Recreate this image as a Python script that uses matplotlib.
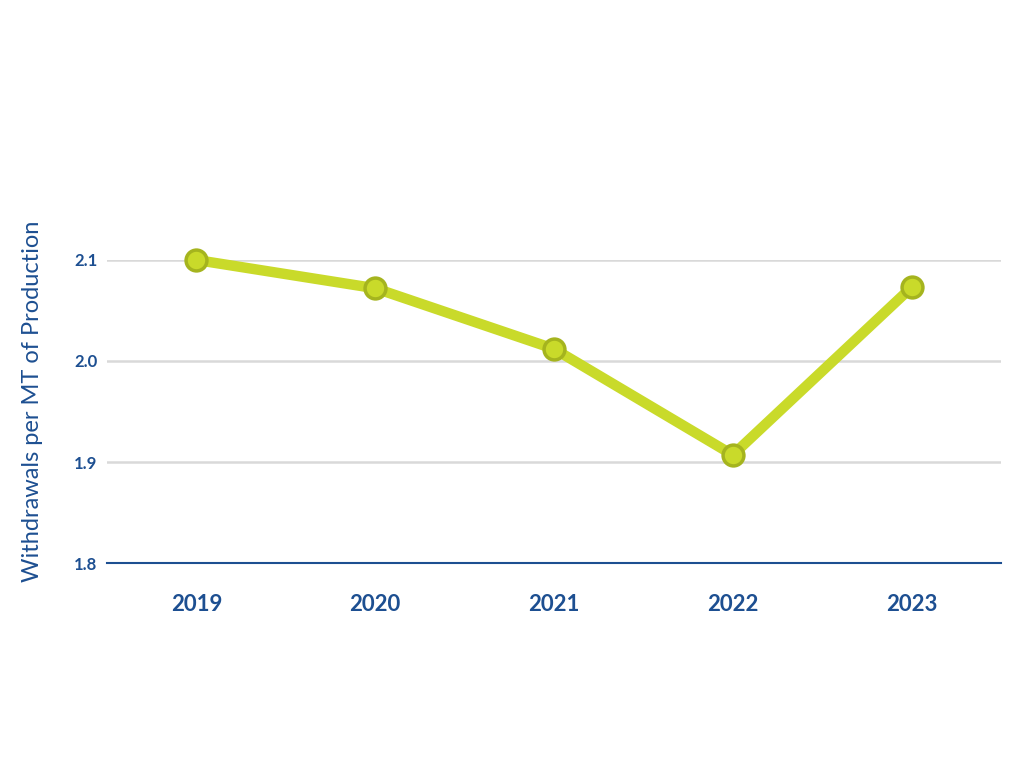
import matplotlib
matplotlib.use("Agg")
import matplotlib.pyplot as plt

years = ["2019", "2020", "2021", "2022", "2023"]
values = [2.100, 2.072, 2.012, 1.907, 2.073]
yticks = [1.8, 1.9, 2.0, 2.1]

blue = "#1D4F91"
line_c = "#C9DA2A"
edge_c = "#A5B41E"

plt.rcParams['font.family'] = ['Lato', 'DejaVu Sans']

fig = plt.figure(figsize=(10.24, 7.68), dpi=100)
ax = fig.add_axes([0.1045, 0.2669, 0.8730, 0.3946])
x = list(range(len(years)))
ax.plot(x, values, color=line_c, lw=7.5, marker='o', markersize=15,
        markerfacecolor=line_c, markeredgecolor=edge_c, markeredgewidth=2.5,
        clip_on=False, zorder=3, solid_capstyle='round')
ax.set_xlim(-0.5, 4.5)
ax.set_ylim(1.8, 2.1)
ax.set_yticks(yticks)
ax.set_yticklabels([f"{v:.1f}" for v in yticks], fontsize=12, fontweight='bold', color=blue)
ax.set_xticks(x)
ax.set_xticklabels(years, fontsize=16, fontweight='bold', color=blue)
ax.tick_params(axis='both', length=0)
ax.tick_params(axis='y', pad=7)
ax.tick_params(axis='x', pad=22)
for s in ['top', 'right', 'left']:
    ax.spines[s].set_visible(False)
ax.spines['bottom'].set_color(blue)
ax.spines['bottom'].set_linewidth(1.5)
ax.grid(axis='y', color='#D9D9D9', lw=1.8, zorder=0)
ax.set_axisbelow(True)
fig.text(33 / 1024, 1 - 401 / 768, "Withdrawals per MT of Production", fontsize=17,
         color=blue, rotation=90, ha='center', va='center')
fig.savefig("out.png", dpi=100)
